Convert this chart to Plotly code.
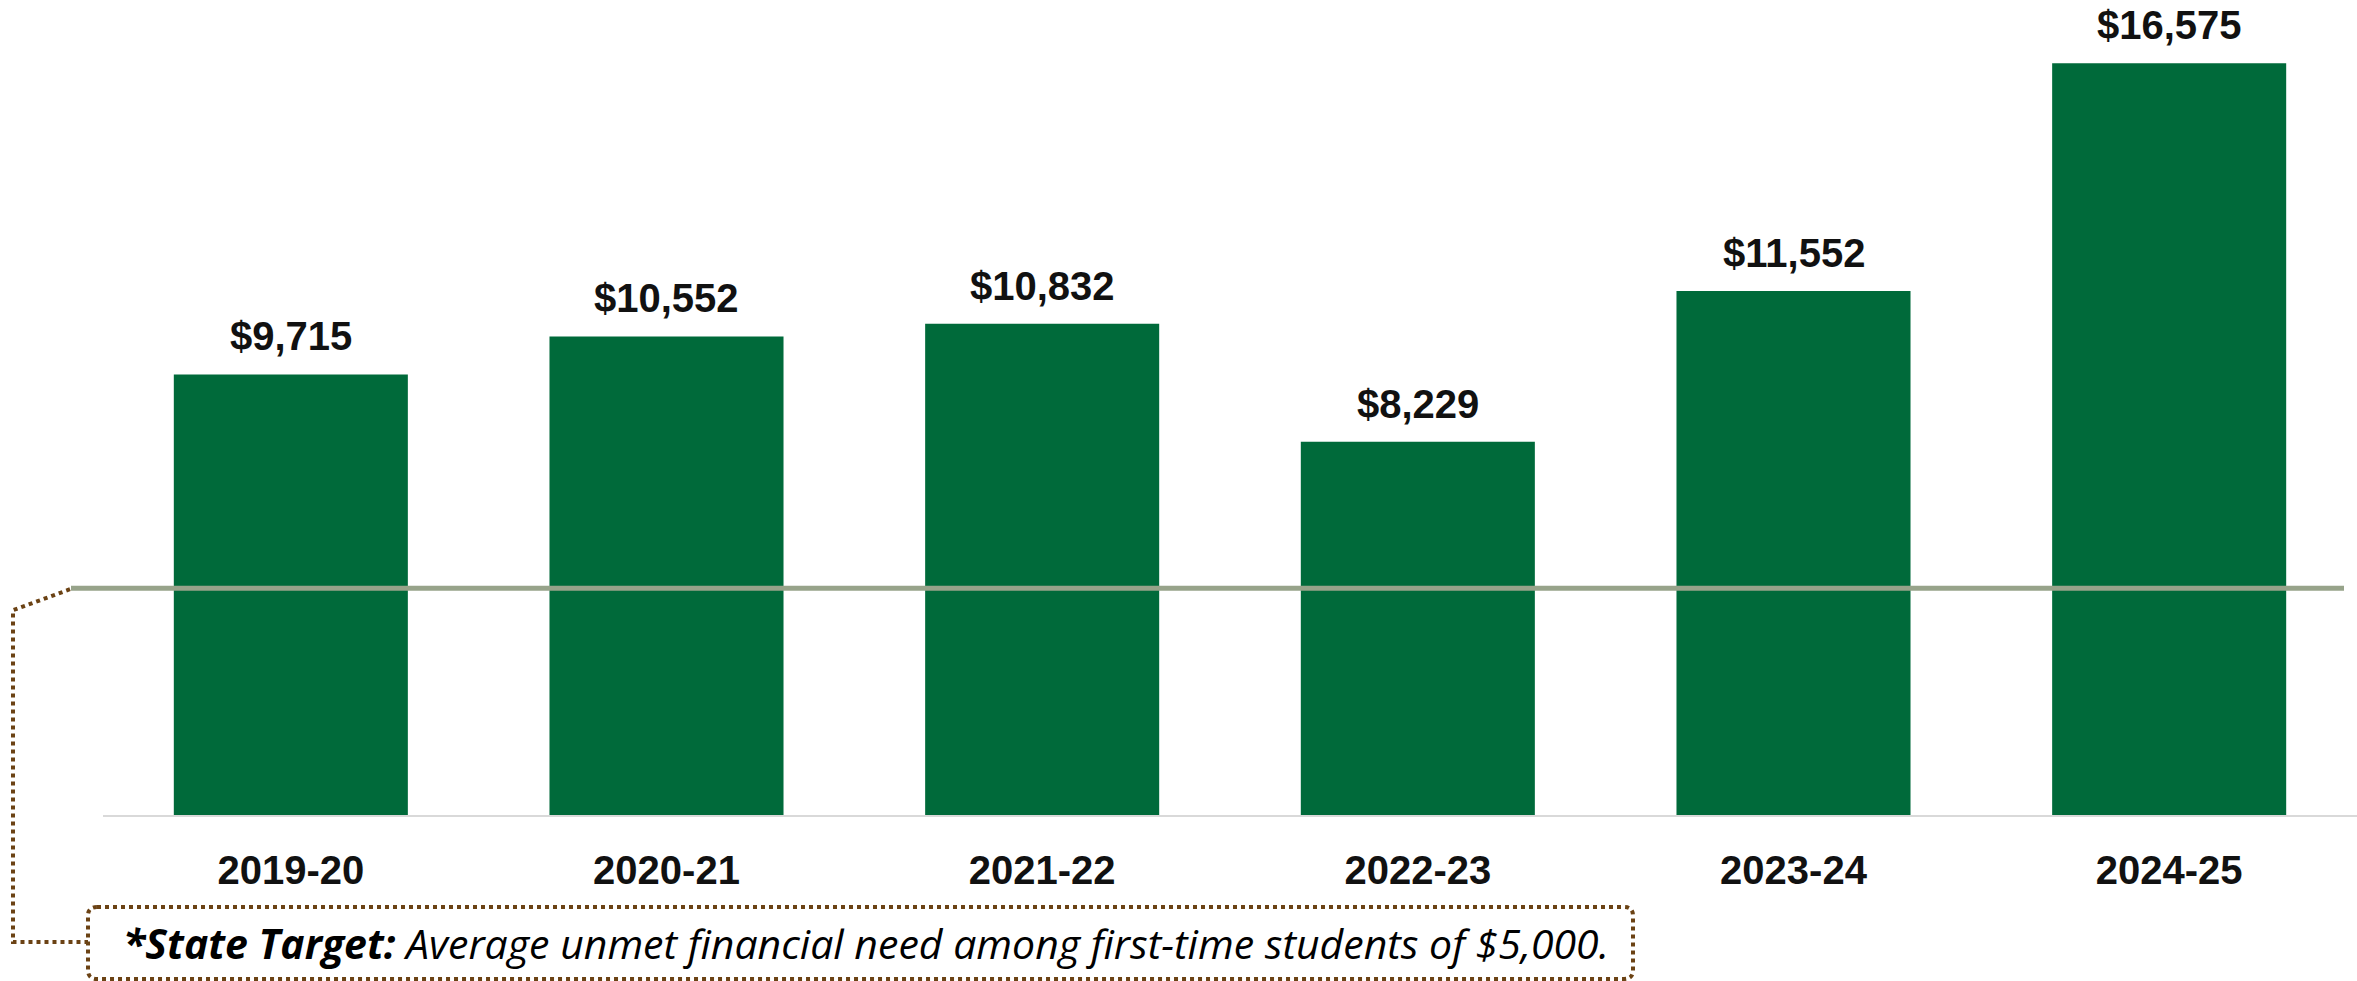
import plotly.graph_objects as go

# Average unmet financial need, first-time students
years = ["2019-20", "2020-21", "2021-22", "2022-23", "2023-24", "2024-25"]
unmet_need = [9715, 10552, 10832, 8229, 11552, 16575]
state_target = 5000
note_bold = "*State Target:"
note_rest = " Average unmet financial need among first-time students of $5,000."

W, H = 2357, 981
ML, MR, MT, MB = 103, 0, 10, 166
PW = W - ML - MR
PH = H - MT - MB
Y_MAX = 17750

BAR_GREEN = "#006A3A"
TARGET_GRAY = "#97A38A"
DOT_BROWN = "#6B4214"
LABEL_FONT = dict(family="Liberation Sans, Arial", size=40, color="#111111", weight="bold")


def xp(px):
    """Pixel x -> paper x."""
    return (px - ML) / PW


def yp(py):
    """Pixel y -> paper y."""
    return (MT + PH - py) / PH


fig = go.Figure(
    go.Bar(
        x=years,
        y=unmet_need,
        marker=dict(color=BAR_GREEN, line=dict(width=0)),
        hoverinfo="skip",
    )
)

# value labels above bars
for yr, v in zip(years, unmet_need):
    fig.add_annotation(
        x=yr, y=v, text=f"${v:,}", showarrow=False,
        yanchor="bottom", yshift=14, font=LABEL_FONT,
    )

# state target line
line_px_y = MT + PH - state_target * PH / Y_MAX
fig.add_shape(
    type="line", xref="paper", yref="y",
    x0=xp(71), x1=xp(2344), y0=state_target, y1=state_target,
    line=dict(color=TARGET_GRAY, width=5), layer="above",
)

# dotted connector from the line to the note box
fig.add_shape(
    type="path", xref="paper", yref="paper",
    path=(f"M {xp(70)} {yp(line_px_y + 1)} L {xp(13)} {yp(line_px_y + 22)} "
          f"L {xp(13)} {yp(942)} L {xp(88)} {yp(942)}"),
    line=dict(color=DOT_BROWN, width=4, dash="dot"),
)

# rounded dotted note box
bx0, bx1, by0, by1, r = 88, 1633, 907, 979, 9
rx, ry = r / PW, r / PH
box = (
    f"M {xp(bx0) + rx} {yp(by0)} L {xp(bx1) - rx} {yp(by0)} "
    f"Q {xp(bx1)} {yp(by0)} {xp(bx1)} {yp(by0) - ry} "
    f"L {xp(bx1)} {yp(by1) + ry} "
    f"Q {xp(bx1)} {yp(by1)} {xp(bx1) - rx} {yp(by1)} "
    f"L {xp(bx0) + rx} {yp(by1)} "
    f"Q {xp(bx0)} {yp(by1)} {xp(bx0)} {yp(by1) + ry} "
    f"L {xp(bx0)} {yp(by0) - ry} "
    f"Q {xp(bx0)} {yp(by0)} {xp(bx0) + rx} {yp(by0)} Z"
)
fig.add_shape(type="path", xref="paper", yref="paper", path=box,
              line=dict(color=DOT_BROWN, width=4, dash="dot"))

fig.add_annotation(
    xref="paper", yref="paper", x=xp(121), y=yp(943),
    xanchor="left", yanchor="middle", showarrow=False,
    text=f"<b><i>{note_bold}</i></b><i>{note_rest}</i>",
    font=dict(family="Open Sans", size=41, color="#000000"),
)

fig.update_layout(
    width=W, height=H,
    margin=dict(l=ML, r=MR, t=MT, b=MB),
    paper_bgcolor="white", plot_bgcolor="white",
    bargap=0.377,
    showlegend=False,
    xaxis=dict(
        range=[-0.5, 5.5], showgrid=False, zeroline=False,
        showline=True, linecolor="#D9D9D9", linewidth=2,
        ticks="", ticklabelstandoff=19, tickfont=LABEL_FONT,
    ),
    yaxis=dict(range=[0, Y_MAX], visible=False, showgrid=False, zeroline=False),
)

fig.write_html("out.html")
